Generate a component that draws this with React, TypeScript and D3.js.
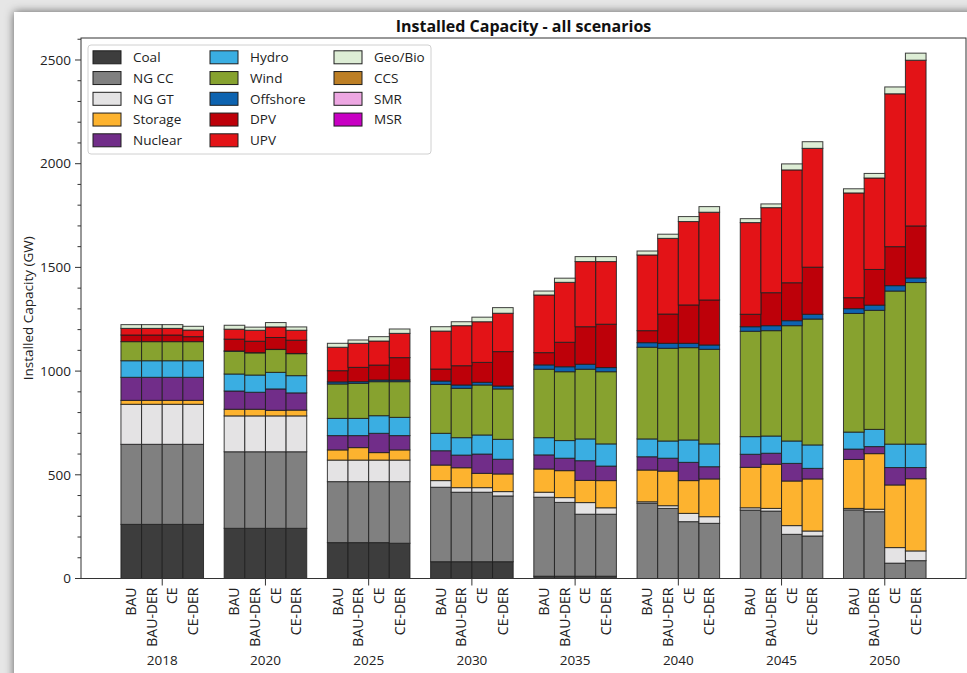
import React from 'react';
import * as d3 from 'd3';

const years = ['2018', '2020', '2025', '2030', '2035', '2040', '2045', '2050'];
const scenarios = ['BAU', 'BAU-DER', 'CE', 'CE-DER'];
const techs = ['Coal', 'NG CC', 'NG GT', 'Storage', 'Nuclear', 'Hydro', 'Wind', 'Offshore', 'DPV', 'UPV', 'Geo/Bio', 'CCS', 'SMR', 'MSR'];
const colors = ['#3d3d3d', '#808080', '#e4e3e4', '#fdb32f', '#712d89', '#3aaee2', '#87a22f', '#0d63b0', '#bd0009', '#e31317', '#ddedd5', '#bd7f25', '#eda7e2', '#c800c3'];

// GW, 4 scenarios per year (BAU, BAU-DER, CE, CE-DER)
const coal = [261, 261, 261, 261, 242, 242, 242, 242, 173, 173, 173, 170, 81, 81, 81, 81, 11, 11, 11, 11, 0, 0, 0, 0, 0, 0, 0, 0, 0, 0, 0, 0];
const ngcc = [386, 386, 386, 386, 369, 369, 369, 369, 294, 294, 294, 297, 359, 335, 335, 317, 381, 356, 299, 299, 363, 338, 274, 266, 330, 325, 213, 205, 331, 322, 74, 86];
const nggt = [193, 193, 193, 193, 173, 173, 173, 173, 104, 104, 104, 104, 32, 22, 22, 21, 24, 23, 56, 31, 7, 13, 40, 32, 11, 13, 42, 24, 7, 12, 75, 47];
const storage = [19, 19, 19, 19, 32, 32, 27, 28, 49, 60, 36, 49, 75, 96, 69, 85, 112, 130, 107, 131, 153, 167, 158, 182, 195, 213, 215, 251, 236, 268, 302, 348];
const nuclear = [111, 111, 111, 111, 88, 82, 103, 83, 69, 58, 93, 69, 69, 61, 93, 71, 68, 60, 95, 70, 64, 62, 88, 59, 63, 53, 85, 51, 50, 34, 84, 54];
const hydro = [80, 80, 80, 80, 82, 83, 80, 83, 83, 83, 85, 88, 84, 84, 92, 96, 83, 85, 105, 107, 86, 83, 108, 110, 85, 83, 108, 113, 82, 83, 113, 113];
const wind = [92, 92, 92, 92, 110, 107, 110, 106, 166, 169, 164, 172, 236, 238, 241, 243, 330, 332, 336, 348, 442, 447, 445, 456, 508, 508, 556, 607, 572, 574, 738, 779];
const offshore = [0, 0, 0, 0, 1, 1, 1, 1, 10, 8, 8, 8, 16, 16, 13, 14, 21, 24, 24, 20, 22, 24, 21, 21, 22, 24, 24, 23, 23, 25, 26, 22];
const dpv = [32, 32, 32, 24, 57, 55, 57, 64, 54, 69, 72, 108, 58, 93, 96, 166, 59, 118, 181, 209, 58, 141, 185, 217, 60, 159, 183, 227, 53, 172, 188, 251];
const upv = [32, 32, 32, 32, 48, 53, 51, 48, 113, 116, 116, 117, 183, 193, 196, 185, 278, 289, 314, 302, 365, 365, 402, 423, 442, 410, 544, 573, 505, 441, 737, 799];
const geobio = [18, 18, 18, 18, 19, 15, 21, 16, 19, 16, 21, 21, 21, 19, 22, 27, 19, 20, 24, 24, 19, 20, 24, 27, 19, 18, 29, 32, 20, 22, 33, 34];
const ccs = new Array(32).fill(0);
const smr = new Array(32).fill(0);
const msr = new Array(32).fill(0);
const series = [coal, ngcc, nggt, storage, nuclear, hydro, wind, offshore, dpv, upv, geobio, ccs, smr, msr];

const W = 967;
const H = 673;
const left = 81, right = 966, top = 38, bottom = 578.5;
const font = '"Open Sans", "Noto Sans", sans-serif';

export default function App() {
  const rows = years.flatMap((yr, yi) => scenarios.map((sc, si) => {
    const row: any = { year: yr, scen: sc };
    techs.forEach((t, ti) => { row[t] = series[ti][yi * 4 + si]; });
    return row;
  }));
  const stacked = d3.stack().keys(techs)(rows);

  const xYear = d3.scaleBand().domain(years).range([left, right]).paddingInner(0.2).paddingOuter(0.387);
  const xScen = d3.scaleBand().domain(scenarios).range([0, xYear.bandwidth()]);
  const y = d3.scaleLinear().domain([0, 2606]).range([bottom, top]);

  const major = d3.range(0, 2501, 500);
  const minor = d3.range(0, 2601, 100).filter(v => v % 500 !== 0);

  const legendRows = 5;

  return (
    <svg width={W} height={H} style={{ position: 'absolute', left: 0, top: 0 }} fontFamily={font}>
      <defs>
        <filter id="shadow" x="-5%" y="-5%" width="110%" height="110%">
          <feDropShadow dx="0" dy="0" stdDeviation="5" floodColor="#000" floodOpacity="0.6" />
        </filter>
      </defs>
      <rect x={0} y={0} width={W} height={H} fill="#e6e6e6" />
      <rect x={14} y={12} width={W + 40} height={H + 40} fill="#fff" filter="url(#shadow)" />

      <text x={(left + right) / 2} y={32} textAnchor="middle" fontSize={16} fontWeight="bold" fill="#111">
        Installed Capacity - all scenarios
      </text>

      {stacked.map((layer, li) => (
        <g key={layer.key} fill={colors[li]}>
          {layer.map((d: any, i) => {
            const h = y(d[0]) - y(d[1]);
            if (h <= 0) return null;
            return (
              <rect key={i}
                x={(xYear(d.data.year) ?? 0) + (xScen(d.data.scen) ?? 0)}
                y={y(d[1])}
                width={xScen.bandwidth()}
                height={h}
                stroke="#1e1e1e" strokeWidth={1} strokeOpacity={0.85} />
            );
          })}
        </g>
      ))}

      {/* frame */}
      <rect x={left} y={top} width={right - left} height={bottom - top} fill="none" stroke="#333" strokeWidth={1} />

      {/* y axis */}
      {major.map(v => (
        <g key={v}>
          <line x1={left - 6} x2={left} y1={y(v)} y2={y(v)} stroke="#333" />
          <text x={left - 10} y={y(v)} dy="0.35em" textAnchor="end" fontSize={13.5} fill="#222">{v}</text>
        </g>
      ))}
      {minor.map(v => (
        <line key={v} x1={left - 3.5} x2={left} y1={y(v)} y2={y(v)} stroke="#333" />
      ))}
      <text transform={`translate(28,${(top + bottom) / 2}) rotate(-90)`} textAnchor="middle" dy="0.35em" fontSize={13.5} fill="#222">
        Installed Capacity (GW)
      </text>

      {/* x axis */}
      {years.map(yr => {
        const cx = (xYear(yr) ?? 0) + xYear.bandwidth() / 2;
        return (
          <g key={yr}>
            <line x1={cx} x2={cx} y1={bottom} y2={bottom + 7} stroke="#333" />
            {scenarios.map(sc => {
              const sx = (xYear(yr) ?? 0) + (xScen(sc) ?? 0) + xScen.bandwidth() / 2;
              return (
                <text key={sc} transform={`translate(${sx},${bottom + 9}) rotate(-90)`} textAnchor="end" dy="0.35em" fontSize={14} fill="#222">
                  {sc}
                </text>
              );
            })}
            <text x={cx} y={665} textAnchor="middle" fontSize={13.5} fill="#222">{yr}</text>
          </g>
        );
      })}

      {/* legend */}
      <g>
        <rect x={88} y={45} width={343} height={109} rx={3} fill="#fff" fillOpacity={0.85} stroke="#d0d0d0" />
        {techs.map((t, i) => {
          const col = Math.floor(i / legendRows);
          const row = i % legendRows;
          const sx = [93, 210, 334][col];
          const cy = 57.3 + row * 20.75;
          return (
            <g key={t}>
              <rect x={sx} y={cy - 6.5} width={28} height={13} fill={colors[i]} stroke="#1e1e1e" strokeWidth={1} />
              <text x={sx + 40} y={cy} dy="0.35em" fontSize={13.5} fill="#222">{t}</text>
            </g>
          );
        })}
      </g>
    </svg>
  );
}
